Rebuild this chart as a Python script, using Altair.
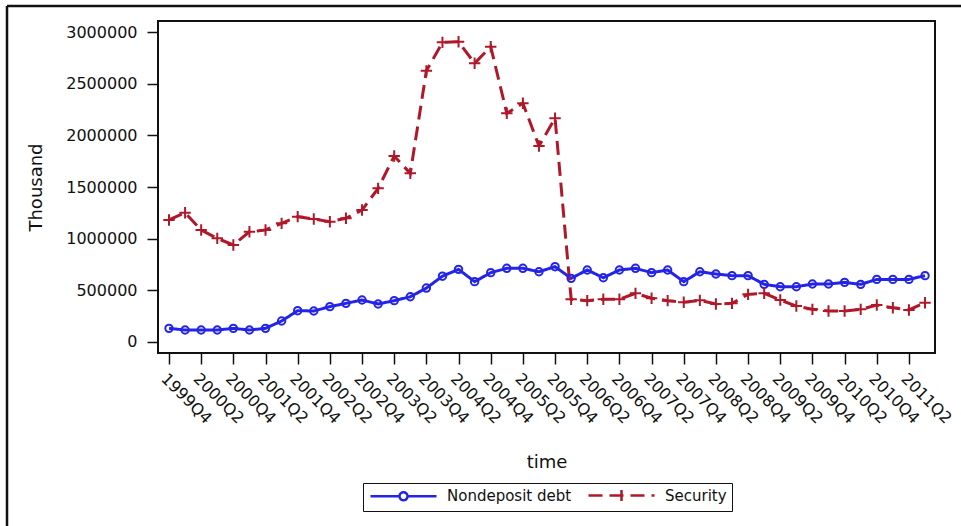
import altair as alt
import pandas as pd

quarters = []
for yr in range(1999, 2012):
    for q in range(1, 5):
        if (yr == 1999 and q < 4) or (yr == 2011 and q > 3):
            continue
        quarters.append(f"{yr}Q{q}")

nondeposit = [132000, 116000, 116000, 116000, 132000, 116000, 132000, 203000,
              303000, 300000, 342000, 374000, 406000, 368000, 400000, 438000,
              522000, 637000, 703000, 584000, 671000, 713000, 713000, 680000,
              729000, 616000, 697000, 622000, 697000, 713000, 671000, 697000,
              584000, 680000, 658000, 642000, 642000, 558000, 535000, 535000,
              561000, 561000, 577000, 558000, 606000, 606000, 606000, 642000]

security = [1181000, 1251000, 1084000, 1003000, 939000, 1067000, 1084000, 1148000,
            1213000, 1190000, 1164000, 1197000, 1277000, 1487000, 1800000, 1632000,
            2624000, 2900000, 2906000, 2697000, 2858000, 2213000, 2310000, 1897000,
            2165000, 413000, 400000, 413000, 413000, 471000, 423000, 400000,
            385000, 403000, 368000, 374000, 461000, 471000, 406000, 348000,
            316000, 300000, 300000, 316000, 358000, 332000, 310000, 380000]

series_names = ["Nondeposit debt", "Security"]
y_ticks = [0, 500000, 1000000, 1500000, 2000000, 2500000, 3000000]

rows = []
for i, q in enumerate(quarters):
    rows.append({"idx": i, "quarter": q, "series": series_names[0], "value": nondeposit[i]})
    rows.append({"idx": i, "quarter": q, "series": series_names[1], "value": security[i]})
df = pd.DataFrame(rows)

FONT = "DejaVu Sans"
BLUE = "#2424e8"
RED = "#b0182a"

label_arr = "[" + ",".join(f"'{q}'" for q in quarters) + "]"

xscale = alt.Scale(domain=[-0.684, 47.62], nice=False, zero=False)
yscale = alt.Scale(domain=[-106500, 3106500], nice=False, zero=False)

x_enc = alt.X("idx:Q", scale=xscale, title="time",
              axis=alt.Axis(values=list(range(0, 48, 2)),
                            labelExpr=f"{label_arr}[datum.value]",
                            labelAngle=45, labelAlign="left", labelBaseline="top",
                            labelPadding=6, tickSize=11, domain=False, grid=False,
                            labelFont=FONT, labelFontSize=16, labelColor="#111",
                            titleFont=FONT, titleFontSize=18, titleFontWeight="normal",
                            titlePadding=27, titleColor="#111",
                            tickColor="#111", tickWidth=1.5, labelOverlap=False))
y_enc = alt.Y("value:Q", scale=yscale, title="Thousand",
              axis=alt.Axis(values=y_ticks, format="d", tickSize=11, labelPadding=10,
                            domain=False, grid=False,
                            labelFont=FONT, labelFontSize=16, labelColor="#111",
                            titleFont=FONT, titleFontSize=18, titleFontWeight="normal",
                            titlePadding=20, titleColor="#111",
                            tickColor="#111", tickWidth=1.5))

# legend symbols: size 100 -> 5 px per path unit; symbol spans 0..66 px
circle_path = ("M-1,0L4.8,0M6.4,0L12.2,0"
               "M4.8,0A0.8,0.8 0 1 0 6.4,0A0.8,0.8 0 1 0 4.8,0")
plus_path = "M-1,0L12.2,0M5.6,-1.1L5.6,1.1"
plus_marker = "M-1,0L1,0M0,-1L0,1"

legend = alt.Legend(title=None, orient="none", legendX=205, legendY=462,
                    direction="horizontal", strokeColor="#111", fillColor="white",
                    padding=5, labelFont=FONT, labelFontSize=15, labelColor="#111",
                    symbolSize=100, symbolStrokeWidth=2.5, labelOffset=64,
                    columnPadding=11, symbolFillColor="transparent")

cscale = alt.Scale(domain=series_names, range=[BLUE, RED])
color = alt.Color("series:N", scale=cscale, legend=legend)
dash = alt.StrokeDash("series:N",
                      scale=alt.Scale(domain=series_names, range=[[1, 0], [14, 7]]),
                      legend=legend)

base = alt.Chart(df)
lines = base.mark_line(strokeWidth=3).encode(x=x_enc, y=y_enc, color=color, strokeDash=dash)

pts_blue = base.transform_filter(alt.datum.series == series_names[0]).mark_point(
    shape="circle", filled=False, strokeWidth=2, opacity=1, size=55
).encode(x=x_enc, y=y_enc, color=color)
pts_red = base.transform_filter(alt.datum.series == series_names[1]).mark_point(
    shape=plus_marker, filled=False, strokeWidth=2, opacity=1, size=130
).encode(x=x_enc, y=y_enc, color=color)

legend_shapes = base.transform_filter("false").mark_point(
    filled=False, strokeWidth=2.5, opacity=1
).encode(x=x_enc, y=y_enc, color=color, strokeDash=dash,
         shape=alt.Shape("series:N",
                         scale=alt.Scale(domain=series_names, range=[circle_path, plus_path]),
                         legend=legend))

frame_data = alt.Data(values=[{"k": 1}])
frame_left = alt.Chart(frame_data).mark_rule(color="#111", strokeWidth=2.5).encode(
    x=alt.value(-151), y=alt.value(-15), y2=alt.value(700))
frame_top = alt.Chart(frame_data).mark_rule(color="#111", strokeWidth=2.5).encode(
    x=alt.value(-151), x2=alt.value(1000), y=alt.value(-15))

chart = alt.layer(lines, pts_blue, pts_red, legend_shapes, frame_left, frame_top).properties(
    width=777, height=332,
    autosize=alt.AutoSizeParams(type="none"),
    padding={"left": 158, "top": 21, "right": 26, "bottom": 173},
    background="white",
).configure_view(stroke="#111", strokeWidth=2)

chart.save("out.html", embed_options={"renderer": "svg", "actions": False})
